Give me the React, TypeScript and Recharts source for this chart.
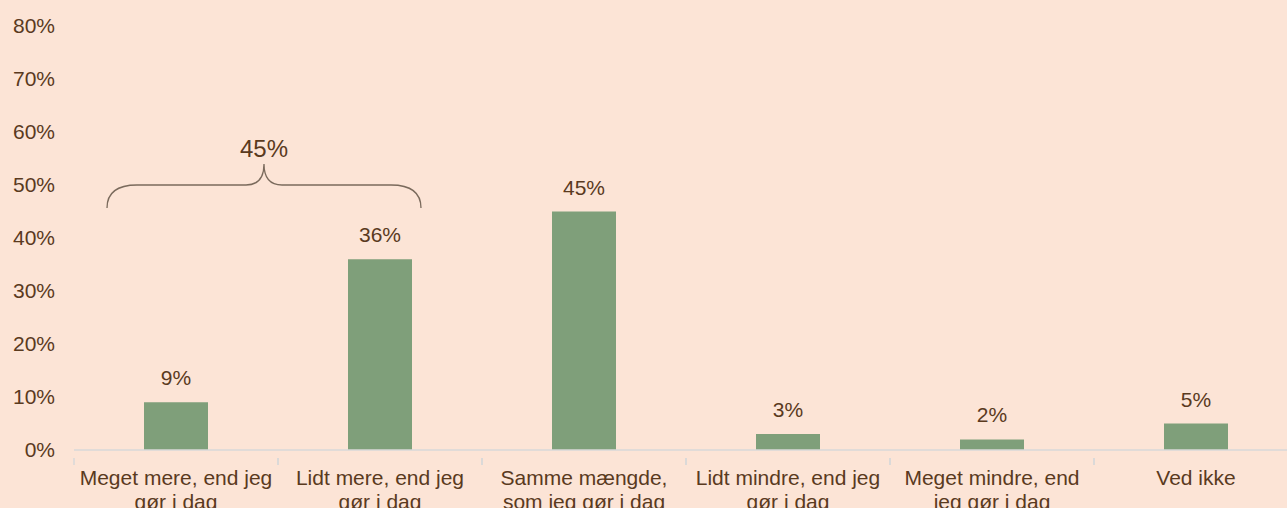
import { BarChart, Bar, XAxis, YAxis, LabelList, ReferenceLine } from 'recharts'

const CATEGORIES = [
  'Meget mere, end jeg\ngør i dag',
  'Lidt mere, end jeg\ngør i dag',
  'Samme mængde,\nsom jeg gør i dag',
  'Lidt mindre, end jeg\ngør i dag',
  'Meget mindre, end\njeg gør i dag',
  'Ved ikke',
]
const VALUES = [9, 36, 45, 3, 2, 5]
const Y_TICKS = [0, 10, 20, 30, 40, 50, 60, 70, 80]
// brace over the first two answers
const BRACE_TOTAL = 45
const BRACE_LEVEL = 50

const BG = '#FCE4D6'
const TEXT = '#5A3A1E'
const BAR = '#7F9F7A'
const AXIS = '#D9D9D9'
const FONT = '"Liberation Sans", Arial, sans-serif'

const CHART_W = 1300
const CHART_H = 508
const PLOT_LEFT = 74
const BAND = (CHART_W - 2 - PLOT_LEFT) / CATEGORIES.length

const data = CATEGORIES.map((name, i) => ({ name, value: VALUES[i] }))

function CategoryTick(props: any) {
  const { x, y, payload } = props
  const lines = String(payload.value).split('\n')
  return (
    <g>
      <line x1={x - BAND / 2} y1={y} x2={x - BAND / 2} y2={y + 7} stroke={AXIS} strokeWidth={1.5} />
      <line x1={x + BAND / 2} y1={y} x2={x + BAND / 2} y2={y + 7} stroke={AXIS} strokeWidth={1.5} />
      <text x={x} y={y + 27} textAnchor="middle" fill={TEXT} fontSize={21} fontFamily={FONT}>
        {lines.map((l, i) => (
          <tspan key={i} x={x} dy={i === 0 ? 0 : 24}>
            {l}
          </tspan>
        ))}
      </text>
    </g>
  )
}

function Brace(props: any) {
  const { x1, x2, y1 } = props
  const xl = x1 - 69
  const xr = x2 + 41
  const xc = (xl + xr) / 2
  const y = y1
  const d = `M ${xl} ${y + 23} Q ${xl} ${y} ${xl + 30} ${y} L ${xc - 18} ${y} Q ${xc} ${y} ${xc} ${y - 21} Q ${xc} ${y} ${xc + 18} ${y} L ${xr - 30} ${y} Q ${xr} ${y} ${xr} ${y + 23}`
  return (
    <g>
      <path d={d} fill="none" stroke="#7A6A5C" strokeWidth={1.3} />
      <text x={xc} y={y - 28} textAnchor="middle" fill={TEXT} fontSize={24} fontFamily={FONT}>
        {BRACE_TOTAL}%
      </text>
    </g>
  )
}

export default function App() {
  return (
    <div
      style={{
        position: 'absolute',
        left: 0,
        top: 0,
        width: 1287,
        height: CHART_H,
        overflow: 'hidden',
        background: BG,
        fontFamily: FONT,
      }}
    >
      <BarChart
        width={CHART_W}
        height={CHART_H}
        data={data}
        margin={{ top: 26, right: 2, left: 0, bottom: 0 }}
      >
        <XAxis
          dataKey="name"
          height={58}
          interval={0}
          tickLine={false}
          axisLine={{ stroke: AXIS, strokeWidth: 1.5 }}
          tick={<CategoryTick />}
        />
        <YAxis
          width={PLOT_LEFT}
          domain={[0, 80]}
          ticks={Y_TICKS}
          interval={0}
          axisLine={false}
          tickLine={false}
          tickSize={0}
          tickMargin={19}
          tickFormatter={(v) => `${v}%`}
          tick={{ fill: TEXT, fontSize: 21, fontFamily: FONT }}
        />
        <Bar dataKey="value" fill={BAR} barSize={64} isAnimationActive={false}>
          <LabelList
            dataKey="value"
            position="top"
            offset={17}
            formatter={(v: any) => `${v}%`}
            fill={TEXT}
            fontSize={21}
            fontFamily={FONT}
          />
        </Bar>
        <ReferenceLine
          segment={[
            { x: CATEGORIES[0], y: BRACE_LEVEL },
            { x: CATEGORIES[1], y: BRACE_LEVEL },
          ]}
          shape={<Brace />}
          ifOverflow="visible"
        />
      </BarChart>
    </div>
  )
}
